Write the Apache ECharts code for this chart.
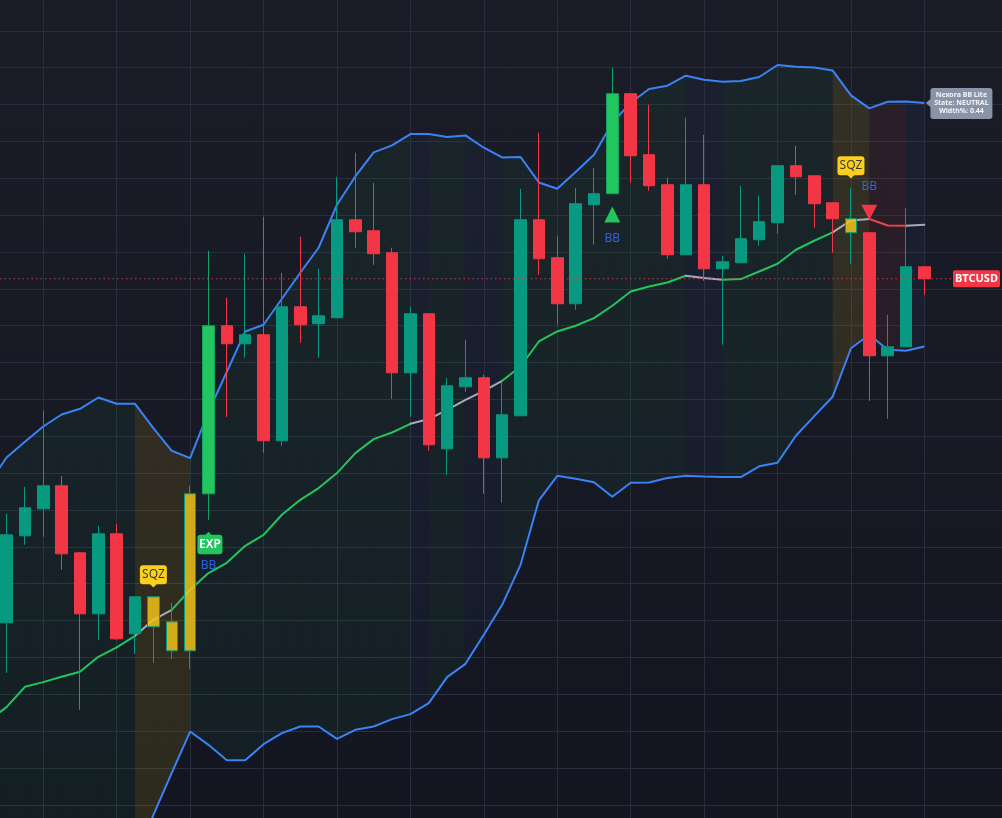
<!DOCTYPE html>
<html><head><meta charset="utf-8">
<script src="https://cdn.jsdelivr.net/npm/echarts@6/dist/echarts.min.js"></script>
<style>
html,body{margin:0;padding:0;background:#171a24;overflow:hidden;}
#wrap{position:relative;width:1002px;height:818px;overflow:hidden;background:linear-gradient(180deg,#1a1d28 0%,#171a25 50%,#131620 100%);}
#c{position:absolute;left:-21px;top:-6px;width:1028px;height:1032px;}
</style>
</head><body><div id="wrap"><div id="c"></div></div>
<script>
// ---------- DATA ----------
// category 0 is an off-screen bar on the left, categories 1..51 are the visible candles, 52..55 empty space
const categories = Array.from({length: 56}, (_, i) => 'Bar ' + (i - 1));

// visible candles: [open, close, low, high]
const ohlc = [
  [64465,65345,63965,65555],[65335,65615,65245,65825],[65605,65835,65325,66585],[65835,65155,64995,65935],
  [65165,64555,63595,65175],[64555,65355,64295,65435],[65355,64305,64295,65455],[64355,64725,64155,64725],
  [64725,64425,64065,64725],[64475,64185,64105,64665],[64185,65755,64005,65835],[65755,67435,65495,68185],
  [67435,67255,66525,67715],[67255,67345,67115,68155],[67345,66285,66165,68525],[66285,67625,66235,67965],
  [67625,67445,67265,68325],[67455,67535,67115,68005],[67515,68495,67515,68925],[68495,68375,68215,69165],
  [68385,68155,68045,68865],[68165,66965,66705,68215],[66965,67555,66525,67625],[67555,66245,66185,67555],
  [66205,66835,65945,66915],[66825,66915,66775,67295],[66915,66115,65755,66945],[66115,66545,65665,66875],
  [66535,68495,66535,68805],[68495,68105,67945,69365],[68115,67655,67445,68335],[67655,68655,67595,68815],
  [68645,68755,68245,69015],[68755,69755,68755,70015],[69755,69135,68865,69755],[69145,68835,68785,69645],
  [68845,68145,68105,68915],[68145,68845,68145,69515],[68845,68005,67885,69345],[68005,68075,67245,68135],
  [68065,68305,68065,68835],[68295,68475,68235,68735],[68465,69035,68355,69035],[69035,68925,68745,69235],
  [68935,68655,68415,68935],[68665,68505,68165,68665],[68505,68365,68055,68815],[68365,67135,66685,68365],
  [67135,67225,66505,67545],[67225,68025,67225,68615],[68025,67905,67745,68025]
];
const squeezeBars = [8, 9, 10, 46];
const expansionBars = [11, 33];

// Bollinger bands, one value per category 0..51
const upperBand = [65845,66118,66275,66428,66548,66605,66718,66655,66655,66412,66185,66112,66575,66975,67378,67445,
  67705,67965,68215,68645,68928,69168,69238,69352,69352,69322,69338,69215,69118,69122,68868,68805,68972,69145,69465,
  69665,69802,69835,69935,69895,69875,69882,69922,70042,70025,70018,69988,69738,69608,69675,69678,69662];
const basis = [63485,63622,63825,63872,63925,63975,64125,64220,64335,64495,64595,64795,64962,65065,65235,65345,
  65545,65695,65812,65962,66162,66302,66368,66455,66502,66595,66695,66785,66885,67028,67278,67378,67435,67512,67635,
  67778,67828,67868,67935,67912,67895,67902,67978,68055,68195,68285,68368,68488,68502,68438,68435,68445];
const lowerBand = [61125,61125,61375,61315,61305,61345,61535,61785,62015,62545,62965,63378,63245,63092,63092,63252,
  63362,63428,63428,63305,63395,63428,63502,63552,63662,63922,64055,64345,64645,65045,65690,65935,65905,65870,65725,
  65865,65868,65912,65935,65928,65922,65922,66030,66065,66335,66532,66725,67210,67345,67195,67185,67228];

// state of each band segment (category k -> k+1), k = 0..50
const zoneState = [
  'trend','trend','trend','trend','trend','trend','trend','trend',
  'squeeze','squeeze','squeeze',
  'trend','trend','trend','trend','trend','trend','trend','trend','trend','trend','trend','trend',
  'neutral','trend','trend','neutral','neutral',
  'trend','trend','trend','trend','trend','trend','trend','trend','trend','trend',
  'neutral','neutral',
  'trend','trend','trend','trend','trend','trend',
  'squeeze','squeeze','bear','bear','neutral'
];
// basis slope per segment k = 0..50
const basisTrend = [
  'up','up','up','up','up','up','up','up',
  'flat','flat',
  'up','up','up','up','up','up','up','up','up','up','up','up','up',
  'flat','flat','flat','flat','flat',
  'up','up','up','up','up','up','up','up','up','up',
  'flat','flat',
  'up','up','up','up','up','up',
  'flat','flat','down','down','flat'
];

const signals = [
  {bar: 8, kind: 'SQZ'}, {bar: 11, kind: 'EXP'}, {bar: 33, kind: 'BBUP'},
  {bar: 46, kind: 'SQZ'}, {bar: 47, kind: 'BBDOWN'}
];
const infoLines = ['Nexora BB Lite', 'State: NEUTRAL', 'Width%: 0.44'];
const symbolName = 'BTCUSD';

// ---------- STYLE ----------
const UP = '#089981', DOWN = '#f23645', BRIGHT = '#22c55e', BLUE = '#3b82f6';
const zoneFill = {
  trend: 'rgba(34,197,94,0.055)', squeeze: 'rgba(240,190,20,0.12)',
  neutral: 'rgba(70,110,240,0.05)', bear: 'rgba(239,68,68,0.08)'
};
const basisColor = {up: '#22c55e', flat: '#a7abb9', down: '#ef4444'};
const FONT = '"Noto Sans", "Open Sans", sans-serif';
const OFFSET_X = 21; // canvas is shifted left by this many px

const candleData = categories.map((c, k) => {
  const v = k - 1;
  if (v < 0 || v >= ohlc.length) return '-';
  const item = {value: ohlc[v]};
  if (squeezeBars.includes(v)) {
    item.itemStyle = {color: 'rgba(240,196,25,0.85)', color0: 'rgba(240,196,25,0.85)', borderColor: UP, borderColor0: DOWN};
  } else if (expansionBars.includes(v)) {
    item.itemStyle = {color: BRIGHT, color0: BRIGHT, borderColor: '#13a463', borderColor0: '#13a463'};
  }
  return item;
});

const runs = [];
basisTrend.forEach((t, k) => {
  if (runs.length && runs[runs.length - 1].t === t) runs[runs.length - 1].end = k + 1;
  else runs.push({t: t, start: k, end: k + 1});
});

const lastClose = ohlc[ohlc.length - 1][1];
const lastCat = ohlc.length;

const chart = echarts.init(document.getElementById('c'), null, {renderer: 'canvas'});
chart.setOption({
  backgroundColor: 'transparent',
  animation: false,
  grid: {left: 0, right: 0, top: 0, bottom: 0, containLabel: false},
  xAxis: {
    type: 'category', data: categories, boundaryGap: true,
    axisLine: {show: false}, axisTick: {show: false}, axisLabel: {show: false},
    splitLine: {show: true, alignWithLabel: true,
      interval: function (i) { return i % 4 === 3 && i <= 51; },
      lineStyle: {color: '#2a2e3b', width: 1}}
  },
  yAxis: {
    type: 'value', min: 60434, max: 70752, interval: 368.5,
    axisLine: {show: false}, axisTick: {show: false}, axisLabel: {show: false},
    splitLine: {show: true, lineStyle: {color: '#2a2e3b', width: 1}}
  },
  series: [
    {
      type: 'custom', z: 1, silent: true, clip: false,
      data: zoneState.map((s, k) => [k, upperBand[k], lowerBand[k]]),
      encode: {x: 0, y: [1, 2]},
      renderItem: function (params, api) {
        const k = params.dataIndex;
        const pts = [api.coord([k, upperBand[k]]), api.coord([k + 1, upperBand[k + 1]]),
                     api.coord([k + 1, lowerBand[k + 1]]), api.coord([k, lowerBand[k]])];
        return {type: 'polygon', shape: {points: pts}, style: {fill: zoneFill[zoneState[k]]}};
      }
    },
    {type: 'line', z: 2, data: upperBand, showSymbol: false, symbol: 'none', silent: true,
     lineStyle: {color: BLUE, width: 2}},
    {type: 'line', z: 2, data: lowerBand, showSymbol: false, symbol: 'none', silent: true,
     lineStyle: {color: BLUE, width: 2}},
    {
      type: 'custom', z: 3, silent: true, clip: false,
      data: runs.map(r => [r.start, basis[r.start]]),
      encode: {x: 0, y: 1},
      renderItem: function (params, api) {
        const r = runs[params.dataIndex];
        const pts = [];
        for (let j = r.start; j <= r.end; j++) pts.push(api.coord([j, basis[j]]));
        return {type: 'polyline', shape: {points: pts},
          style: {stroke: basisColor[r.t], lineWidth: 2, fill: null, lineJoin: 'round', lineCap: 'round'}};
      }
    },
    {type: 'candlestick', z: 4, data: candleData, barWidth: 12, silent: true,
     itemStyle: {color: UP, color0: DOWN, borderColor: UP, borderColor0: DOWN, borderWidth: 1}},
    {
      type: 'custom', z: 5, silent: true, clip: false,
      data: signals.map(s => [s.bar + 1, ohlc[s.bar][3]]),
      encode: {x: 0, y: 1},
      renderItem: function (params, api) {
        const s = signals[params.dataIndex];
        const c = ohlc[s.bar];
        const x = api.coord([s.bar + 1, c[3]])[0];
        const yH = api.coord([s.bar + 1, c[3]])[1];
        const yL = api.coord([s.bar + 1, c[2]])[1];
        if (s.kind === 'SQZ') {
          const fill = '#fbd01d';
          return {type: 'group', children: [
            {type: 'rect', shape: {x: x - 13.5, y: yH - 31.5, width: 27, height: 19, r: 3}, style: {fill: fill}},
            {type: 'polygon', shape: {points: [[x - 3.5, yH - 12.7], [x + 3.5, yH - 12.7], [x, yH - 9.2]]}, style: {fill: fill}},
            {type: 'text', style: {text: 'SQZ', x: x, y: yH - 21.8, align: 'center', verticalAlign: 'middle',
              fill: '#3a3a3a', font: '12px ' + FONT}}
          ]};
        }
        if (s.kind === 'EXP') {
          return {type: 'group', children: [
            {type: 'polygon', shape: {points: [[x - 3, yL + 15.2], [x + 3, yL + 15.2], [x, yL + 12]]}, style: {fill: BRIGHT}},
            {type: 'rect', shape: {x: x - 11, y: yL + 15, width: 25, height: 19.5, r: 3}, style: {fill: BRIGHT}},
            {type: 'text', style: {text: 'EXP', x: x + 1.5, y: yL + 24.8, align: 'center', verticalAlign: 'middle',
              fill: '#ffffff', font: '600 12px ' + FONT}},
            {type: 'text', style: {text: 'BB', x: x, y: yL + 46, align: 'center', verticalAlign: 'middle',
              fill: '#2f62e0', font: '12px ' + FONT}}
          ]};
        }
        if (s.kind === 'BBUP') {
          return {type: 'group', children: [
            {type: 'polygon', shape: {points: [[x, yL + 12.7], [x + 8, yL + 28.7], [x - 8, yL + 28.7]]}, style: {fill: BRIGHT}},
            {type: 'text', style: {text: 'BB', x: x, y: yL + 45, align: 'center', verticalAlign: 'middle',
              fill: '#2f62e0', font: '12px ' + FONT}}
          ]};
        }
        return {type: 'group', children: [
          {type: 'polygon', shape: {points: [[x, yH - 13], [x + 8, yH - 28], [x - 8, yH - 28]]}, style: {fill: '#f23645'}},
          {type: 'text', style: {text: 'BB', x: x, y: yH - 45.7, align: 'center', verticalAlign: 'middle',
            fill: '#2f62e0', font: '12px ' + FONT}}
        ]};
      }
    },
    {
      type: 'custom', z: 6, silent: true, clip: false,
      data: [[lastCat, lastClose]],
      encode: {x: 0, y: 1},
      renderItem: function (params, api) {
        const W = api.getWidth();
        const right = 1002 + OFFSET_X; // visible right edge in canvas coords
        const y = api.coord([lastCat, lastClose])[1];
        const ub = api.coord([lastCat, upperBand[lastCat]]);
        const bx = ub[0], by = ub[1];
        const tagW = 47;
        const tagX = right - tagW - 2;
        return {type: 'group', children: [
          {type: 'line', shape: {x1: OFFSET_X, y1: y, x2: tagX, y2: y},
            style: {stroke: 'rgba(242,54,69,0.85)', lineWidth: 1, lineDash: [1.5, 3]}},
          {type: 'rect', shape: {x: tagX, y: y - 8.5, width: tagW, height: 17, r: 2}, style: {fill: '#f23645'}},
          {type: 'text', style: {text: symbolName, x: tagX + tagW / 2, y: y + 0.5, align: 'center', verticalAlign: 'middle',
            fill: '#ffffff', font: 'bold 11px ' + FONT}},
          {type: 'polygon', shape: {points: [[bx + 1.5, by], [bx + 6.5, by - 4.5], [bx + 6.5, by + 4.5]]}, style: {fill: '#8a94a8'}},
          {type: 'rect', shape: {x: bx + 6, y: by - 15, width: 62, height: 31, r: 3}, style: {fill: '#8a94a8'}},
          {type: 'text', style: {text: infoLines[0], x: bx + 37, y: by - 7.7, align: 'center', verticalAlign: 'middle',
            fill: '#f3f5f9', font: 'bold 7px ' + FONT}},
          {type: 'text', style: {text: infoLines[1], x: bx + 37, y: by, align: 'center', verticalAlign: 'middle',
            fill: '#f3f5f9', font: 'bold 7px ' + FONT}},
          {type: 'text', style: {text: infoLines[2], x: bx + 37, y: by + 7.7, align: 'center', verticalAlign: 'middle',
            fill: '#f3f5f9', font: 'bold 7px ' + FONT}}
        ]};
      }
    }
  ]
});
</script>
</body></html>
